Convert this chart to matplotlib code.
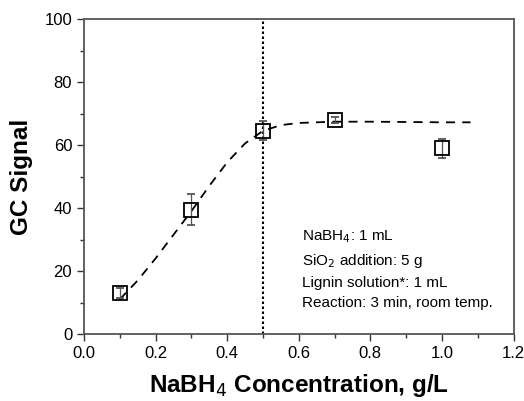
import matplotlib
matplotlib.use("Agg")
import matplotlib.pyplot as plt
from matplotlib.ticker import MultipleLocator

plt.rcParams['font.family'] = ['Liberation Sans', 'DejaVu Sans']

# measured points
conc = [0.1, 0.3, 0.5, 0.7, 1.0]
signal = [13, 39.5, 64.5, 68, 59]
err = [1.5, 5, 3, 1, 3]

# dashed fit curve
fit_x = [0.1, 0.15, 0.2, 0.25, 0.3, 0.35, 0.4, 0.45, 0.5, 0.55, 0.6, 0.7, 0.8, 0.9, 1.0, 1.08]
fit_y = [11, 17, 24, 31.5, 39, 47, 54.5, 60.5, 64.5, 66.3, 67, 67.4, 67.4, 67.3, 67.2, 67.2]

notes = ["NaBH$_4$: 1 mL", "SiO$_2$ addition: 5 g",
         "Lignin solution*: 1 mL", "Reaction: 3 min, room temp."]
note_y = [30.8, 23.3, 16.3, 9.8]

fig = plt.figure(figsize=(5.24, 4.01), dpi=100)
ax = fig.add_axes([84 / 524, 1 - 334 / 401, 429.5 / 524, 315 / 401])

ax.plot(fit_x, fit_y, color='black', linestyle=(0, (5, 4)), linewidth=1.3, zorder=2)
ax.axvline(0.5, color='black', linestyle=(0, (1.2, 1.2)), linewidth=1.5, zorder=1)
ax.errorbar(conc, signal, yerr=err, fmt='s', markersize=10, markerfacecolor='none',
            markeredgecolor='black', markeredgewidth=1.3, ecolor='#555555',
            elinewidth=0.9, capsize=3, capthick=0.9, zorder=3)

ax.set_xlim(0, 1.2)
ax.set_ylim(0, 100)
ax.xaxis.set_major_locator(MultipleLocator(0.2))
ax.xaxis.set_minor_locator(MultipleLocator(0.1))
ax.yaxis.set_major_locator(MultipleLocator(20))
ax.yaxis.set_minor_locator(MultipleLocator(10))
ax.xaxis.set_major_formatter(plt.FuncFormatter(lambda v, p: f"{v:.1f}"))
ax.tick_params(which='both', direction='out', top=False, right=False,
               labelsize=12, color='#333333', width=1)
ax.tick_params(which='major', length=5)
ax.tick_params(which='minor', length=3)
for s in ax.spines.values():
    s.set_color('#555555')
    s.set_linewidth(1.3)

ax.set_xlabel("NaBH$_4$ Concentration, g/L", fontsize=17.5, fontweight='bold', labelpad=8)
ax.set_ylabel("GC Signal", fontsize=17.5, fontweight='bold', labelpad=8)

for t, y in zip(notes, note_y):
    ax.text(0.61, y, t, fontsize=11, va='center')

fig.savefig("out.png", dpi=100)
